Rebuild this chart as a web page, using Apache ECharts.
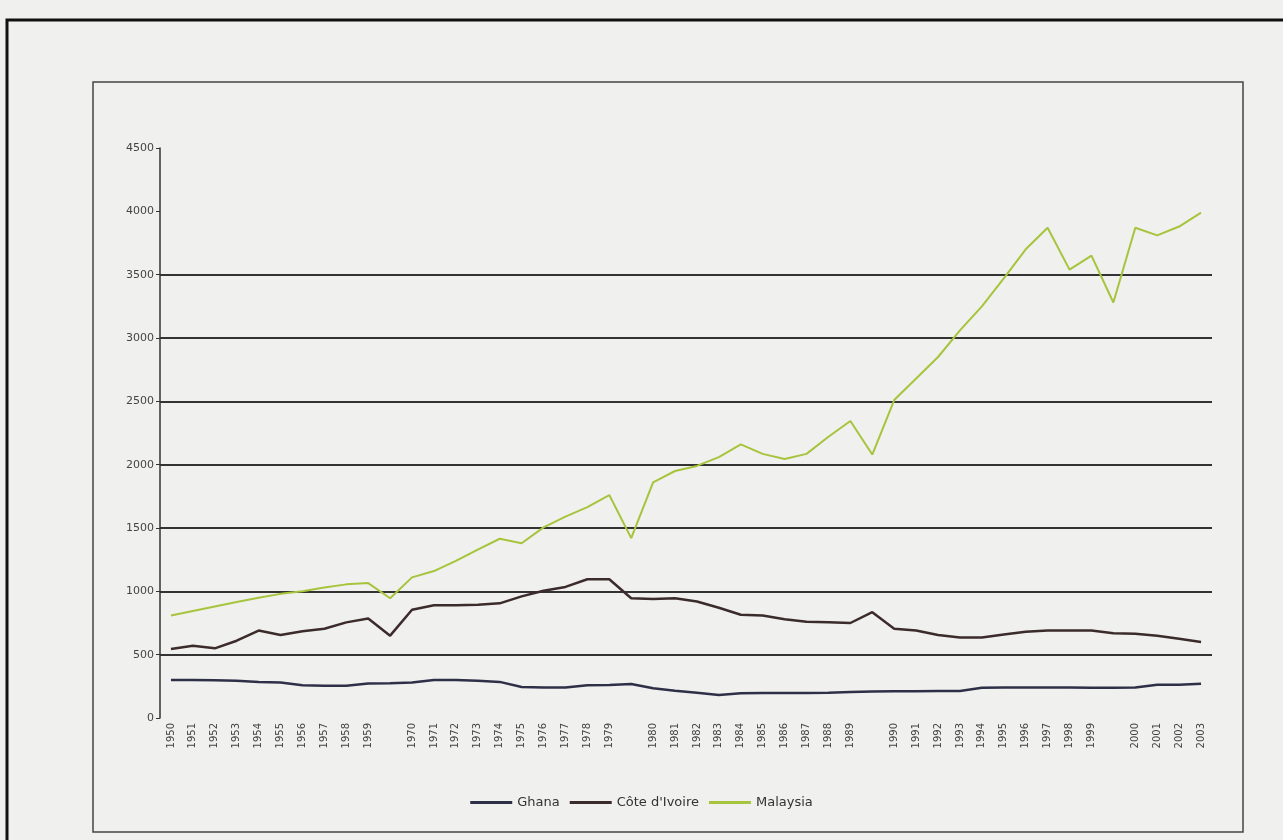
<!DOCTYPE html>
<html>
<head>
<meta charset="utf-8">
<script src="https://cdn.jsdelivr.net/npm/echarts@6/dist/echarts.min.js"></script>
<style>
html,body{margin:0;padding:0;background:#f0f0ee;}
#c{width:1283px;height:840px;}
</style>
</head>
<body>
<div id="c"></div>
<script>
// Category slots (blank slots are unlabeled positions in the original chart)
var categories = [
  '1950','1951','1952','1953','1954','1955','1956','1957','1958','1959','',
  '1970','1971','1972','1973','1974','1975','1976','1977','1978','1979','',
  '1980','1981','1982','1983','1984','1985','1986','1987','1988','1989','',
  '1990','1991','1992','1993','1994','1995','1996','1997','1998','1999','',
  '2000','2001','2002','2003'
];
var ghana = [
  300,300,298,295,285,280,258,255,255,272,275,
  280,300,300,295,285,245,240,240,258,260,268,
  235,215,200,182,195,197,197,197,200,205,210,
  212,212,213,213,238,240,240,240,240,238,238,
  240,262,262,270
];
var coteDIvoire = [
  545,570,550,610,690,655,685,705,755,785,650,
  855,890,890,895,905,960,1005,1035,1095,1095,945,
  940,945,920,870,815,810,780,760,755,750,835,
  705,690,655,635,635,660,680,690,690,690,670,
  665,650,625,600
];
var malaysia = [
  810,845,880,915,950,980,1000,1030,1055,1065,945,
  1110,1160,1240,1330,1415,1380,1505,1590,1665,1760,1420,
  1860,1950,1990,2060,2160,2085,2045,2085,2220,2345,2080,
  2510,2680,2850,3060,3250,3470,3700,3870,3540,3650,3280,
  3870,3810,3880,3990
];
var seriesNames = ['Ghana', "Côte d'Ivoire", 'Malaysia'];
var yMax = 4500, yStep = 500;

var chart = echarts.init(document.getElementById('c'), null, {renderer:'canvas'});
var gridColors = ['rgba(0,0,0,0)','#333','#333','#333','#333','#333','#333','#333','rgba(0,0,0,0)','rgba(0,0,0,0)'];
chart.setOption({
  backgroundColor: '#f0f0ee',
  animation: false,
  textStyle: {fontFamily: 'DejaVu Sans', color: '#333'},
  graphic: [
    {type:'rect', shape:{x:7, y:20, width:1300, height:840}, style:{fill:'none', stroke:'#111', lineWidth:3}, silent:true},
    {type:'rect', shape:{x:93, y:82, width:1150, height:750}, style:{fill:'none', stroke:'#444', lineWidth:1.5}, silent:true}
  ],
  grid: {left:160, width:1052, top:148, height:570, containLabel:false},
  legend: {
    bottom: 26, left: 'center',
    itemWidth: 42, itemHeight: 3, itemGap: 10,
    icon: 'rect',
    textStyle: {fontSize: 13, color: '#333', fontFamily: 'DejaVu Sans'},
    data: seriesNames
  },
  xAxis: {
    type: 'category', data: categories, boundaryGap: true,
    axisLine: {show:false},
    axisTick: {show:false},
    axisLabel: {interval:0, rotate:90, fontSize:10, color:'#444', margin:5}
  },
  yAxis: {
    type: 'value', min: 0, max: yMax, interval: yStep,
    axisLine: {show:true, lineStyle:{color:'#333', width:1.5}},
    axisTick: {show:true, length:4, lineStyle:{color:'#333'}},
    axisLabel: {fontSize:11, color:'#444', margin:6, formatter: function(v){ return String(v); }},
    splitLine: {show:true, lineStyle:{color:gridColors, width:2}}
  },
  series: [
    {name: seriesNames[0], type:'line', data: ghana, symbol:'none', lineStyle:{color:'#2e3048', width:2.5}, itemStyle:{color:'#2e3048'}},
    {name: seriesNames[1], type:'line', data: coteDIvoire, symbol:'none', lineStyle:{color:'#3b2b2b', width:2.5}, itemStyle:{color:'#3b2b2b'}},
    {name: seriesNames[2], type:'line', data: malaysia, symbol:'none', lineStyle:{color:'#a6c43c', width:2}, itemStyle:{color:'#a6c43c'}}
  ]
});
</script>
</body>
</html>
